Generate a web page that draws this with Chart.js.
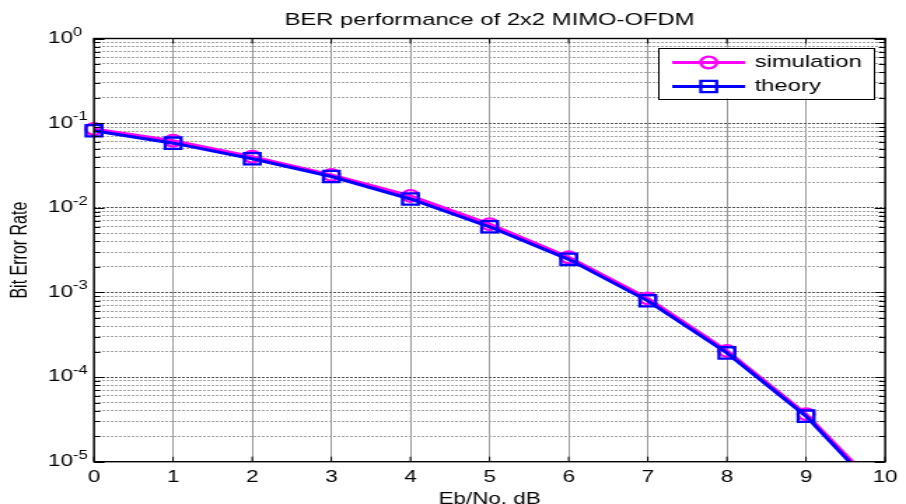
<!DOCTYPE html>
<html>
<head>
<meta charset="utf-8">
<title>BER performance of 2x2 MIMO-OFDM</title>
<script src="https://cdn.jsdelivr.net/npm/chart.js@4.4.1/dist/chart.umd.min.js"></script>
<style>
  html, body { margin: 0; padding: 0; background: #fff; overflow: hidden; }
</style>
</head>
<body>
<!-- the original figure is stretched sideways, so the canvas is drawn narrow and widened by its inline style -->
<canvas id="ber" width="647" height="504" style="display:block;width:906px;height:504px"></canvas>
<script>
// BER performance of 2x2 MIMO-OFDM

const ebNo = [0, 1, 2, 3, 4, 5, 6, 7, 8, 9, 10];
const simulationBer = [0.0853, 0.062, 0.0401, 0.0245, 0.0138, 0.0064, 0.0026, 0.00085, 0.000204, 0.0000365, 0.000004];
const theoryBer = [0.0814, 0.058, 0.0379, 0.0234, 0.0127, 0.00596, 0.00246, 0.000796, 0.000193, 0.0000345, 0.0000036];

const xTicks = [0, 1, 2, 3, 4, 5, 6, 7, 8, 9, 10];
const decades = [1, 1e-1, 1e-2, 1e-3, 1e-4, 1e-5];
const decadeExponents = ['0', '-1', '-2', '-3', '-4', '-5'];
const minorSteps = [2, 3, 4, 5, 6, 7, 8, 9];

const FONT = "'Liberation Sans', Arial, Helvetica, sans-serif";

const isDecade = v => Math.abs(Math.log10(v) - Math.round(Math.log10(v))) < 1e-6;

// every decade plus its 2..9 minor lines
const yTickValues = [];
decades.forEach(d => {
  yTickValues.push(d);
  if (d < 1) minorSteps.forEach(m => yTickValues.push(m * d));
});
yTickValues.sort((a, b) => a - b);

const toPoints = (xs, ys) => xs.map((x, i) => ({ x: x, y: ys[i] }));

// inward ticks, box, 10^n labels and the boxed legend (MATLAB look)
const matlabFrame = {
  id: 'matlabFrame',
  afterDraw(chart) {
    const { ctx, chartArea: a, scales: { x, y } } = chart;
    ctx.save();

    ctx.strokeStyle = '#000';
    ctx.lineWidth = 1;
    ctx.beginPath();
    yTickValues.forEach(v => {
      const py = Math.round(y.getPixelForValue(v)) + 0.5;
      const len = isDecade(v) ? 7.5 : 4.5;
      ctx.moveTo(a.left, py); ctx.lineTo(a.left + len, py);
      ctx.moveTo(a.right, py); ctx.lineTo(a.right - len, py);
    });
    xTicks.forEach(v => {
      const px = x.getPixelForValue(v);
      ctx.moveTo(px, a.top); ctx.lineTo(px, a.top + 5);
      ctx.moveTo(px, a.bottom); ctx.lineTo(px, a.bottom - 5);
    });
    ctx.stroke();

    ctx.lineWidth = 1.4;
    ctx.strokeRect(a.left, a.top, a.right - a.left, a.bottom - a.top);

    // y labels as 10 with a raised exponent
    ctx.fillStyle = '#000';
    ctx.textAlign = 'left';
    decades.forEach((d, i) => {
      const py = y.getPixelForValue(d);
      const lx = a.left - 32.8;
      ctx.font = `16px ${FONT}`;
      ctx.textBaseline = 'middle';
      ctx.fillText('10', lx, py);
      const w = ctx.measureText('10').width;
      ctx.font = `12px ${FONT}`;
      ctx.textBaseline = 'alphabetic';
      ctx.fillText(decadeExponents[i], lx + w, py - 3);
    });

    // legend
    const lw = 154, lh = 51;
    const bx = a.right - 8 - lw, by = a.top + 9;
    ctx.fillStyle = '#fff';
    ctx.fillRect(bx, by, lw, lh);
    ctx.strokeStyle = '#000';
    ctx.lineWidth = 1;
    ctx.strokeRect(Math.round(bx) + 0.5, Math.round(by) + 0.5, lw, lh);

    chart.data.datasets.forEach((ds, i) => {
      const ry = by + 15 + i * 24;
      ctx.strokeStyle = ds.borderColor;
      ctx.lineWidth = ds.borderWidth;
      ctx.beginPath();
      ctx.moveTo(bx + 10, ry);
      ctx.lineTo(bx + 62, ry);
      ctx.stroke();

      ctx.lineWidth = ds.pointBorderWidth;
      ctx.fillStyle = 'rgba(0,0,0,0)';
      Chart.helpers.drawPoint(ctx, {
        pointStyle: ds.pointStyle,
        radius: ds.pointRadius,
        borderWidth: ds.pointBorderWidth,
        rotation: 0
      }, bx + 36, ry);

      ctx.fillStyle = '#000';
      ctx.font = `17px ${FONT}`;
      ctx.textBaseline = 'middle';
      ctx.fillText(ds.label, bx + 68.8, ry);
    });

    ctx.restore();
  }
};

const ctx = document.getElementById('ber').getContext('2d');

new Chart(ctx, {
  type: 'line',
  data: {
    datasets: [
      {
        label: 'simulation',
        data: toPoints(ebNo, simulationBer),
        borderColor: '#ff00ff',
        backgroundColor: 'rgba(0,0,0,0)',
        borderWidth: 3,
        pointStyle: 'circle',
        pointRadius: 5.8,
        pointBorderWidth: 2.3,
        pointBorderColor: '#ff00ff',
        pointBackgroundColor: 'rgba(0,0,0,0)',
        tension: 0,
        clip: { left: 12, right: 12, top: 12, bottom: 0 },
        order: 2
      },
      {
        label: 'theory',
        data: toPoints(ebNo, theoryBer),
        borderColor: '#0000ff',
        backgroundColor: 'rgba(0,0,0,0)',
        borderWidth: 3,
        pointStyle: 'rect',
        pointRadius: 8,
        pointBorderWidth: 2.3,
        pointBorderColor: '#0000ff',
        pointBackgroundColor: 'rgba(0,0,0,0)',
        tension: 0,
        clip: { left: 12, right: 12, top: 12, bottom: 0 },
        order: 1
      }
    ]
  },
  options: {
    responsive: false,
    devicePixelRatio: 1,
    animation: false,
    events: [],
    layout: { padding: { left: 0, right: 9.5, top: 0, bottom: 0 } },
    plugins: {
      legend: { display: false },
      tooltip: { enabled: false },
      title: { display: false }
    },
    scales: {
      x: {
        type: 'linear',
        position: 'bottom',
        min: 0,
        max: 10,
        afterFit: s => { s.height = 42.3; },
        grid: { color: '#9a9a9a', lineWidth: 1, drawTicks: false },
        border: { display: false },
        ticks: {
          stepSize: 1,
          autoSkip: false,
          maxRotation: 0,
          padding: 6,
          color: '#000',
          font: { family: FONT, size: 16 }
        },
        title: {
          display: true,
          text: 'Eb/No, dB',
          color: '#000',
          font: { family: FONT, size: 16, lineHeight: 1 },
          padding: { top: 0, bottom: -4 }
        }
      },
      xTop: {
        type: 'linear',
        position: 'top',
        min: 0,
        max: 10,
        afterFit: s => { s.height = 38.5; },
        grid: { display: false },
        border: { display: false },
        ticks: { display: false },
        title: {
          display: true,
          text: 'BER performance of 2x2 MIMO-OFDM',
          color: '#000',
          font: { family: FONT, size: 17 },
          padding: { top: 10.3, bottom: 0 }
        }
      },
      y: {
        type: 'logarithmic',
        position: 'left',
        min: 1e-5,
        max: 1,
        afterBuildTicks: s => {
          s.ticks = yTickValues.map(v => ({ value: v, major: isDecade(v) }));
        },
        afterFit: s => { s.width = 67.1; },
        grid: {
          color: c => (c.tick && isDecade(c.tick.value)) ? '#555555' : '#a3a3a3',
          lineWidth: 1,
          drawTicks: false
        },
        border: { display: false, dash: [2, 1] },
        ticks: { display: false, autoSkip: false },
        title: {
          display: true,
          text: 'Bit Error Rate',
          color: '#000',
          font: { family: FONT, size: 16 },
          padding: { top: 5, bottom: 0 }
        }
      }
    }
  },
  plugins: [matlabFrame]
});
</script>
</body>
</html>
